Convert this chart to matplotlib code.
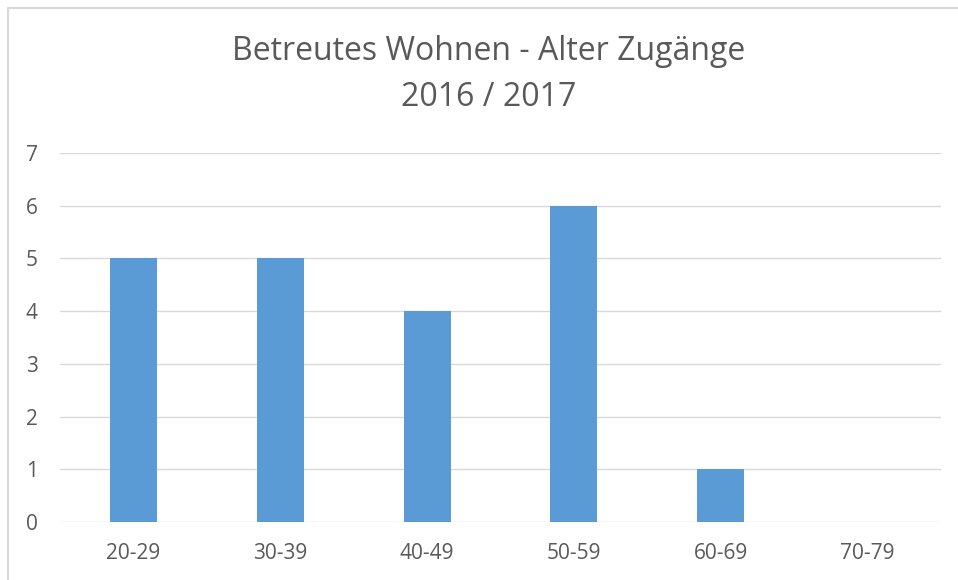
import matplotlib
matplotlib.use("Agg")
import matplotlib.pyplot as plt
from matplotlib.lines import Line2D

categories = ["20-29", "30-39", "40-49", "50-59", "60-69", "70-79"]
values = [5, 5, 4, 6, 1, 0]
yticks = [0, 1, 2, 3, 4, 5, 6, 7]

plt.rcParams['font.family'] = ['Open Sans', 'DejaVu Sans']
text_color = "#595959"

fig = plt.figure(figsize=(9.58, 5.8), dpi=100)
ax = fig.add_axes([60/958, 1-522/580, (941-60)/958, (522-153)/580])

x = range(len(categories))
ax.bar(x, values, width=0.32, color="#5B9BD5", zorder=3)
ax.set_xlim(-0.5, len(categories)-0.5)
ax.set_ylim(0, 7)
ax.set_yticks(yticks)
ax.set_xticks(list(x))
ax.set_xticklabels(categories)
ax.grid(axis='y', color="#D9D9D9", linewidth=1, zorder=0)
for s in ax.spines.values():
    s.set_visible(False)
ax.tick_params(axis='both', length=0, labelsize=15, labelcolor=text_color)
ax.tick_params(axis='y', pad=16)
ax.tick_params(axis='x', pad=15)

fig.text(489/958, 1-52/580, "Betreutes Wohnen - Alter Zugänge", ha='center', va='center',
         fontsize=23, color=text_color)
fig.text(489/958, 1-97/580, "2016 / 2017", ha='center', va='center',
         fontsize=23, color=text_color)

# outer chart border (left and top)
fig.add_artist(Line2D([8/958, 8/958], [0, 1-8/580], transform=fig.transFigure, color="#D9D9D9", lw=1.5))
fig.add_artist(Line2D([8/958, 1], [1-8/580, 1-8/580], transform=fig.transFigure, color="#D9D9D9", lw=1.5))

fig.savefig("out.png", dpi=100)
